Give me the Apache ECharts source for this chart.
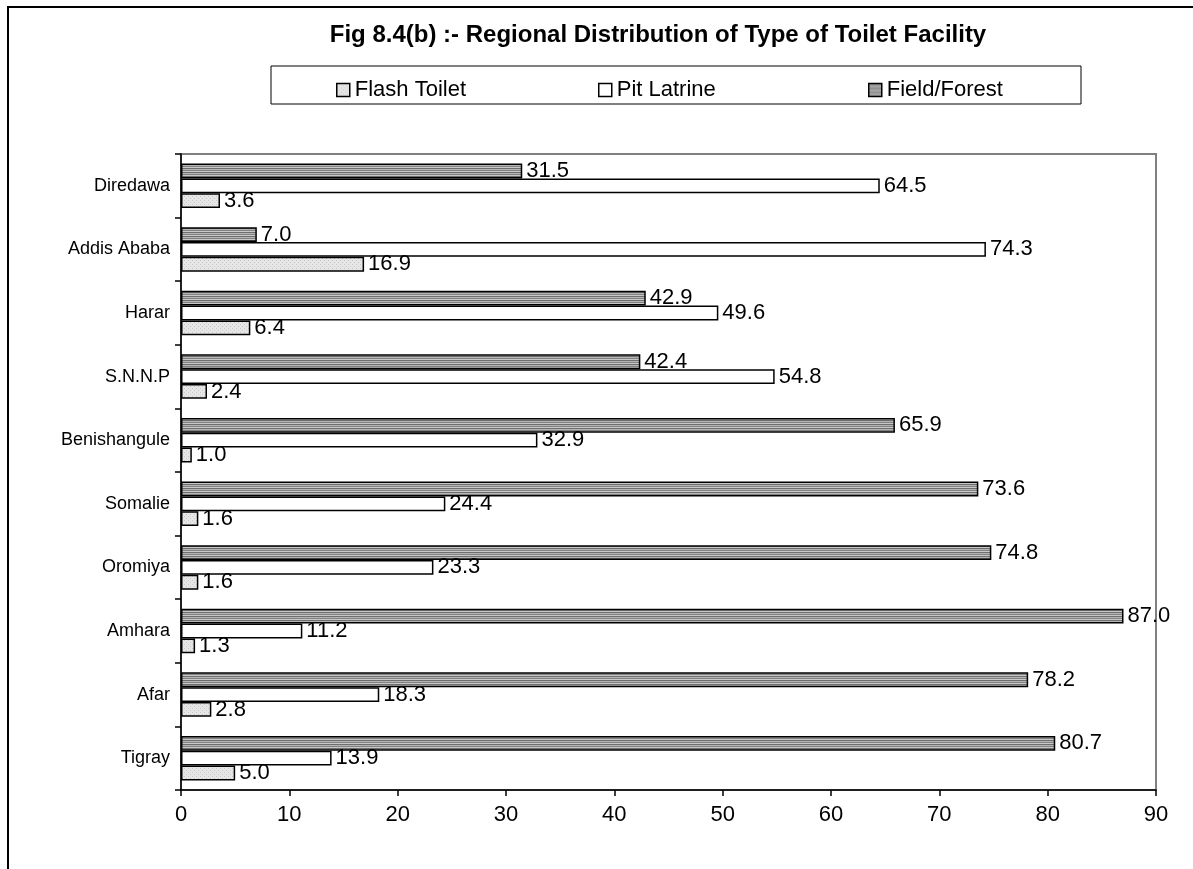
<!DOCTYPE html>
<html>
<head>
<meta charset="utf-8">
<script src="https://cdn.jsdelivr.net/npm/echarts@6/dist/echarts.min.js"></script>
<style>html,body{margin:0;padding:0;background:#fff;}#c{width:1193px;height:869px;}</style>
</head>
<body>
<div id="c"></div>
<script>
const categories = ['Tigray','Afar','Amhara','Oromiya','Somalie','Benishangule','S.N.N.P','Harar','Addis Ababa','Diredawa'];
const flashToilet = [5.0, 2.8, 1.3, 1.6, 1.6, 1.0, 2.4, 6.4, 16.9, 3.6];
const pitLatrine = [13.9, 18.3, 11.2, 23.3, 24.4, 32.9, 54.8, 49.6, 74.3, 64.5];
const fieldForest = [80.7, 78.2, 87.0, 74.8, 73.6, 65.9, 42.4, 42.9, 7.0, 31.5];
const seriesNames = ['Flash Toilet', 'Pit Latrine', 'Field/Forest'];
const xTicks = {min: 0, max: 90, interval: 10};

function makePattern(kind) {
  const c = document.createElement('canvas');
  c.width = 4; c.height = 4;
  const g = c.getContext('2d');
  if (kind === 'dots') {
    g.fillStyle = '#e6e6e6'; g.fillRect(0,0,4,4);
    g.fillStyle = '#c8c8c8';
    g.fillRect(0,0,1,1); g.fillRect(2,2,1,1);
  } else {
    g.fillStyle = '#6e6e6e'; g.fillRect(0,0,4,1);
    g.fillStyle = '#b4b4b4'; g.fillRect(0,1,4,1);
    g.fillStyle = '#828282'; g.fillRect(0,2,4,1);
    g.fillStyle = '#c8c8c8'; g.fillRect(0,3,4,1);
  }
  return {image: c, repeat: 'repeat'};
}
const fills = [makePattern('dots'), '#ffffff', makePattern('stripes')];
const datasets = [flashToilet, pitLatrine, fieldForest];

const FONT = '"Liberation Sans", Arial, sans-serif';
const chart = echarts.init(document.getElementById('c'), null, {renderer: 'canvas'});

// ECharts places the first series at the top of each band; reference shows Field/Forest on top.
const drawOrder = [2, 1, 0];
const series = drawOrder.map(i => ({
  name: seriesNames[i],
  type: 'bar',
  data: datasets[i],
  barGap: '0%',
  barCategoryGap: '30%',
  itemStyle: {color: fills[i], borderColor: '#000', borderWidth: 1.5},
  label: {
    show: true, position: 'right', distance: 4,
    color: '#000', fontFamily: FONT, fontSize: 22,
    formatter: p => p.value.toFixed(1)
  },
  emphasis: {disabled: true},
  animation: false
}));

const legendX = [331, 593, 863];
const legends = seriesNames.map((n, i) => ({
  data: [n],
  left: legendX[i], top: 74,
  itemWidth: 13, itemHeight: 13, itemGap: 5,
  icon: 'rect',
  textStyle: {fontFamily: FONT, fontSize: 22, color: '#000'},
  itemStyle: {borderColor: '#000', borderWidth: 1.5},
  selectedMode: false
}));

chart.setOption({
  animation: false,
  backgroundColor: '#fff',
  title: {
    text: 'Fig 8.4(b) :- Regional Distribution of Type of Toilet Facility',
    left: 653, top: 18, textAlign: 'center',
    textStyle: {fontFamily: FONT, fontSize: 24, fontWeight: 'bold', color: '#000'}
  },
  legend: legends,
  graphic: [
    {type: 'rect', shape: {x: 8, y: 7, width: 1300, height: 1000}, style: {fill: 'none', stroke: '#000', lineWidth: 2}, silent: true},
    {type: 'rect', shape: {x: 271, y: 66, width: 810, height: 38}, style: {fill: 'none', stroke: '#000', lineWidth: 1}, silent: true, z: -1}
  ],
  grid: {left: 181, right: 37, top: 154, bottom: 79, show: true, borderColor: '#808080', borderWidth: 2, backgroundColor: 'transparent'},
  xAxis: {
    type: 'value', min: xTicks.min, max: xTicks.max, interval: xTicks.interval,
    axisLine: {show: true, lineStyle: {color: '#000', width: 1.5}},
    axisTick: {show: true, length: 6, lineStyle: {color: '#000', width: 1.5}},
    splitLine: {show: false},
    axisLabel: {color: '#000', fontFamily: FONT, fontSize: 22, margin: 14}
  },
  yAxis: {
    type: 'category', data: categories,
    axisLine: {show: true, lineStyle: {color: '#000', width: 1.5}},
    axisTick: {show: true, length: 6, lineStyle: {color: '#000', width: 1.5}},
    axisLabel: {color: '#000', fontFamily: FONT, fontSize: 18, margin: 11}
  },
  series: series
});
</script>
</body>
</html>
